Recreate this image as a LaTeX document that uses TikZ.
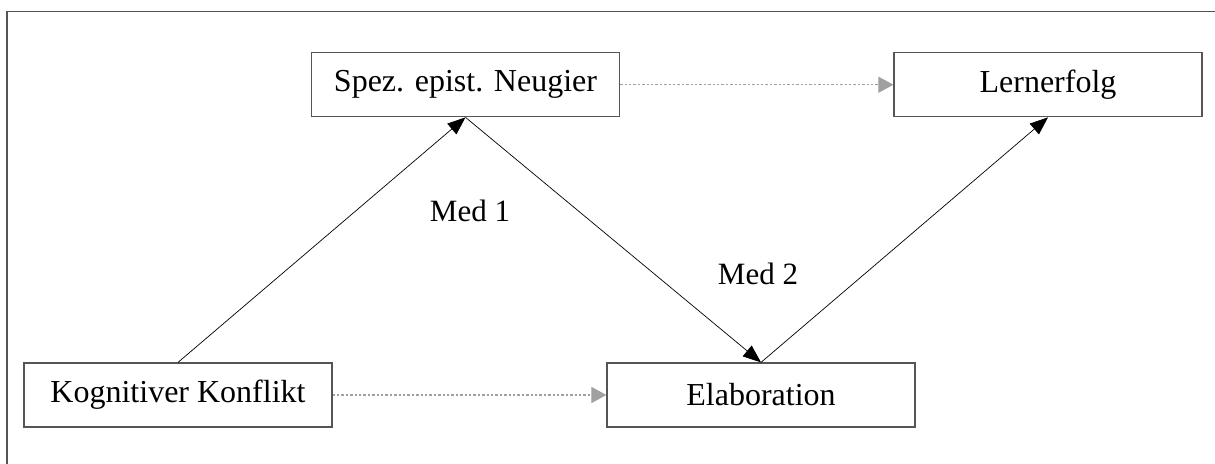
\documentclass[tikz,border=0pt]{standalone}
\usepackage{fontspec}
\setmainfont{Liberation Serif}
\usetikzlibrary{arrows.meta}
\definecolor{framegray}{HTML}{555555}
\definecolor{dotgray}{HTML}{A0A0A0}
\tikzset{
  box/.style={draw=framegray, line width=0.6pt, minimum width=154pt, minimum height=32pt, inner sep=0pt, font=\fontsize{16}{19}\selectfont},
  medarrow/.style={draw=black, line width=0.35pt, -{Triangle[length=9pt,width=7pt]}},
  directarrow/.style={draw=dotgray, line width=0.55pt, dash pattern=on 1.2pt off 1pt, -{Triangle[length=7.5pt,width=8pt]}},
  medlabel/.style={font=\fontsize{15.5}{18}\selectfont, inner sep=0pt}
}
\begin{document}
\begin{tikzpicture}[x=0.5pt, y=-0.5pt]
\useasboundingbox (0,0) rectangle (1215,464);
\draw[framegray, line width=0.75pt] (7,464) -- (7,11.5) -- (1215,11.5);
\node[box] (spez) at (465.5,84.75) {Spez. epist. Neugier};
\node[box] (lern) at (1048,84.75) {Lernerfolg};
\node[box] (kog) at (178,395) {Kognitiver Konflikt};
\node[box] (elab) at (761,395) {Elaboration};
\draw[medarrow] (kog.north) -- (spez.south);
\draw[medarrow] (spez.south) -- (elab.north);
\draw[medarrow] (elab.north) -- (lern.south);
\draw[directarrow] (spez.east) -- (lern.west);
\draw[directarrow] (kog.east) -- (elab.west);
\node[medlabel] (med1) at (470,211) {Med 1};
\node[medlabel] (med2) at (758,274) {Med 2};
\end{tikzpicture}
\end{document}
